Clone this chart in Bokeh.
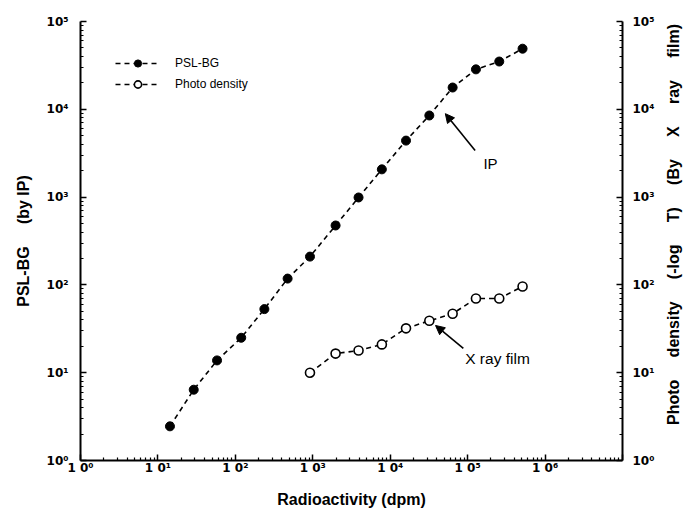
import math
from bokeh.plotting import figure
from bokeh.models import (Range1d, LogScale, LogAxis, FixedTicker, Arrow, NormalHead,
                          Label, Legend, LegendItem)
from bokeh.embed import file_html
from bokeh.resources import INLINE

# ---- data ----
radioactivity_ip = [14.3, 29, 58, 119, 237, 473, 920, 1970, 3900, 7800,
                    16000, 32000, 64000, 128000, 256000, 512000]
psl_bg = [2.45, 6.4, 13.8, 25, 53, 118, 210, 475, 990, 2070,
          4400, 8500, 17700, 28500, 35000, 49000]
radioactivity_film = [920, 1970, 3900, 7800, 16000, 32000, 64000, 128000, 256000, 512000]
photo_density = [10, 16.5, 17.9, 21, 32, 39, 47, 70, 70, 96]

x_ticks = [1, 10, 100, 1000, 10000, 100000, 1000000, 10000000]
x_tick_labels = ["1 0\u2070", "1 0\u00b9", "1 0\u00b2", "1 0\u00b3", "1 0\u2074", "1 0\u2075", "1 0\u2076", ""]
y_ticks = [1, 10, 100, 1000, 10000, 100000]
y_tick_labels = ["10\u2070", "10\u00b9", "10\u00b2", "10\u00b3", "10\u2074", "10\u2075"]

FONT = "Liberation Sans"
NB = "\u00a0"

p = figure(width=693, height=516, x_axis_type="log", y_axis_type="log",
           x_range=Range1d(1, 1e7), y_range=Range1d(1, 1e5),
           output_backend="svg", toolbar_location=None,
           min_border_left=80, min_border_right=66, min_border_top=21, min_border_bottom=56)
p.extra_y_ranges = {"pd": Range1d(1, 1e5)}
p.extra_y_scales = {"pd": LogScale()}
p.xgrid.visible = False
p.ygrid.visible = False
p.outline_line_color = None

def minor_for(ticks):
    out = []
    for t in ticks[:-1]:
        out += [t * k for k in range(2, 10)]
    return out

def style(ax, ticks, labels):
    ax.ticker = FixedTicker(ticks=ticks, minor_ticks=minor_for(ticks))
    ax.major_label_overrides = {t: l for t, l in zip(ticks, labels)}
    ax.axis_line_width = 2
    ax.axis_line_color = "black"
    ax.major_tick_in = 6
    ax.major_tick_out = 0
    ax.minor_tick_in = 3
    ax.minor_tick_out = 0
    ax.major_tick_line_width = 1.5
    ax.minor_tick_line_width = 1.2
    ax.major_label_text_font = "DejaVu Sans"
    ax.major_label_text_font_style = "bold"
    ax.major_label_text_font_size = "12px"
    ax.major_label_text_color = "black"
    ax.axis_label_text_font = FONT
    ax.axis_label_text_font_style = "bold"
    ax.axis_label_text_font_size = "16px"
    ax.axis_label_text_color = "black"

xa = p.xaxis[0]
style(xa, x_ticks, x_tick_labels)
xa.axis_label = "Radioactivity (dpm)"
xa.major_label_standoff = 0
xa.axis_label_standoff = 13

ya = p.yaxis[0]
style(ya, y_ticks, y_tick_labels)
ya.axis_label = "PSL-BG" + NB * 5 + "(by" + NB + "IP)"
ya.major_label_standoff = 12
ya.axis_label_standoff = 12

ra = LogAxis(y_range_name="pd")
style(ra, y_ticks, y_tick_labels)
ra.major_label_standoff = 10
ra.axis_label = NB * 8 + (NB * 5).join(["Photo", "density", "(-log", "T)", "(By", "X", "ray", "film)"])
ra.axis_label_orientation = math.pi / 2
ra.axis_label_align = "start"
ra.axis_label_standoff = 16
p.add_layout(ra, "right")

# ---- series ----
l1 = p.line(radioactivity_ip, psl_bg, line_color="black", line_width=1.6, line_dash="5 4")
s1 = p.scatter(radioactivity_ip, psl_bg, size=9, marker="circle",
               fill_color="black", line_color="black")
l2 = p.line(radioactivity_film, photo_density, y_range_name="pd",
            line_color="black", line_width=1.6, line_dash="5 4")
s2 = p.scatter(radioactivity_film, photo_density, y_range_name="pd", size=9, marker="circle",
               fill_color="white", line_color="black", line_width=1.6)

legend = Legend(items=[LegendItem(label="PSL-BG", renderers=[l1, s1]),
                       LegendItem(label="Photo density", renderers=[l2, s2])],
                location=(35, 367), padding=0, margin=0, spacing=3,
                glyph_width=45, glyph_height=18, label_height=18, label_standoff=15,
                label_text_font=FONT, label_text_font_size="12px", label_text_color="black",
                border_line_alpha=0, background_fill_alpha=0)
p.add_layout(legend)

# ---- annotations ----
p.add_layout(Arrow(end=NormalHead(size=9, fill_color="black", line_color="black"),
                   x_start=1.25e5, y_start=3390, x_end=5.15e4, y_end=8920,
                   line_width=1.6, line_color="black"))
p.add_layout(Label(x=1.6e5, y=2400, text="IP", text_font=FONT, text_font_size="15px",
                   text_color="black", text_baseline="middle", text_align="left"))
p.add_layout(Arrow(end=NormalHead(size=9, fill_color="black", line_color="black"),
                   x_start=8.8e4, y_start=18.9, x_end=3.85e4, y_end=34.5,
                   line_width=1.6, line_color="black"))
p.add_layout(Label(x=9.3e4, y=14.5, text="X ray film", text_font=FONT, text_font_size="15.5px",
                   text_color="black", text_baseline="middle", text_align="left"))

open("out.html", "w").write(file_html(p, INLINE))
